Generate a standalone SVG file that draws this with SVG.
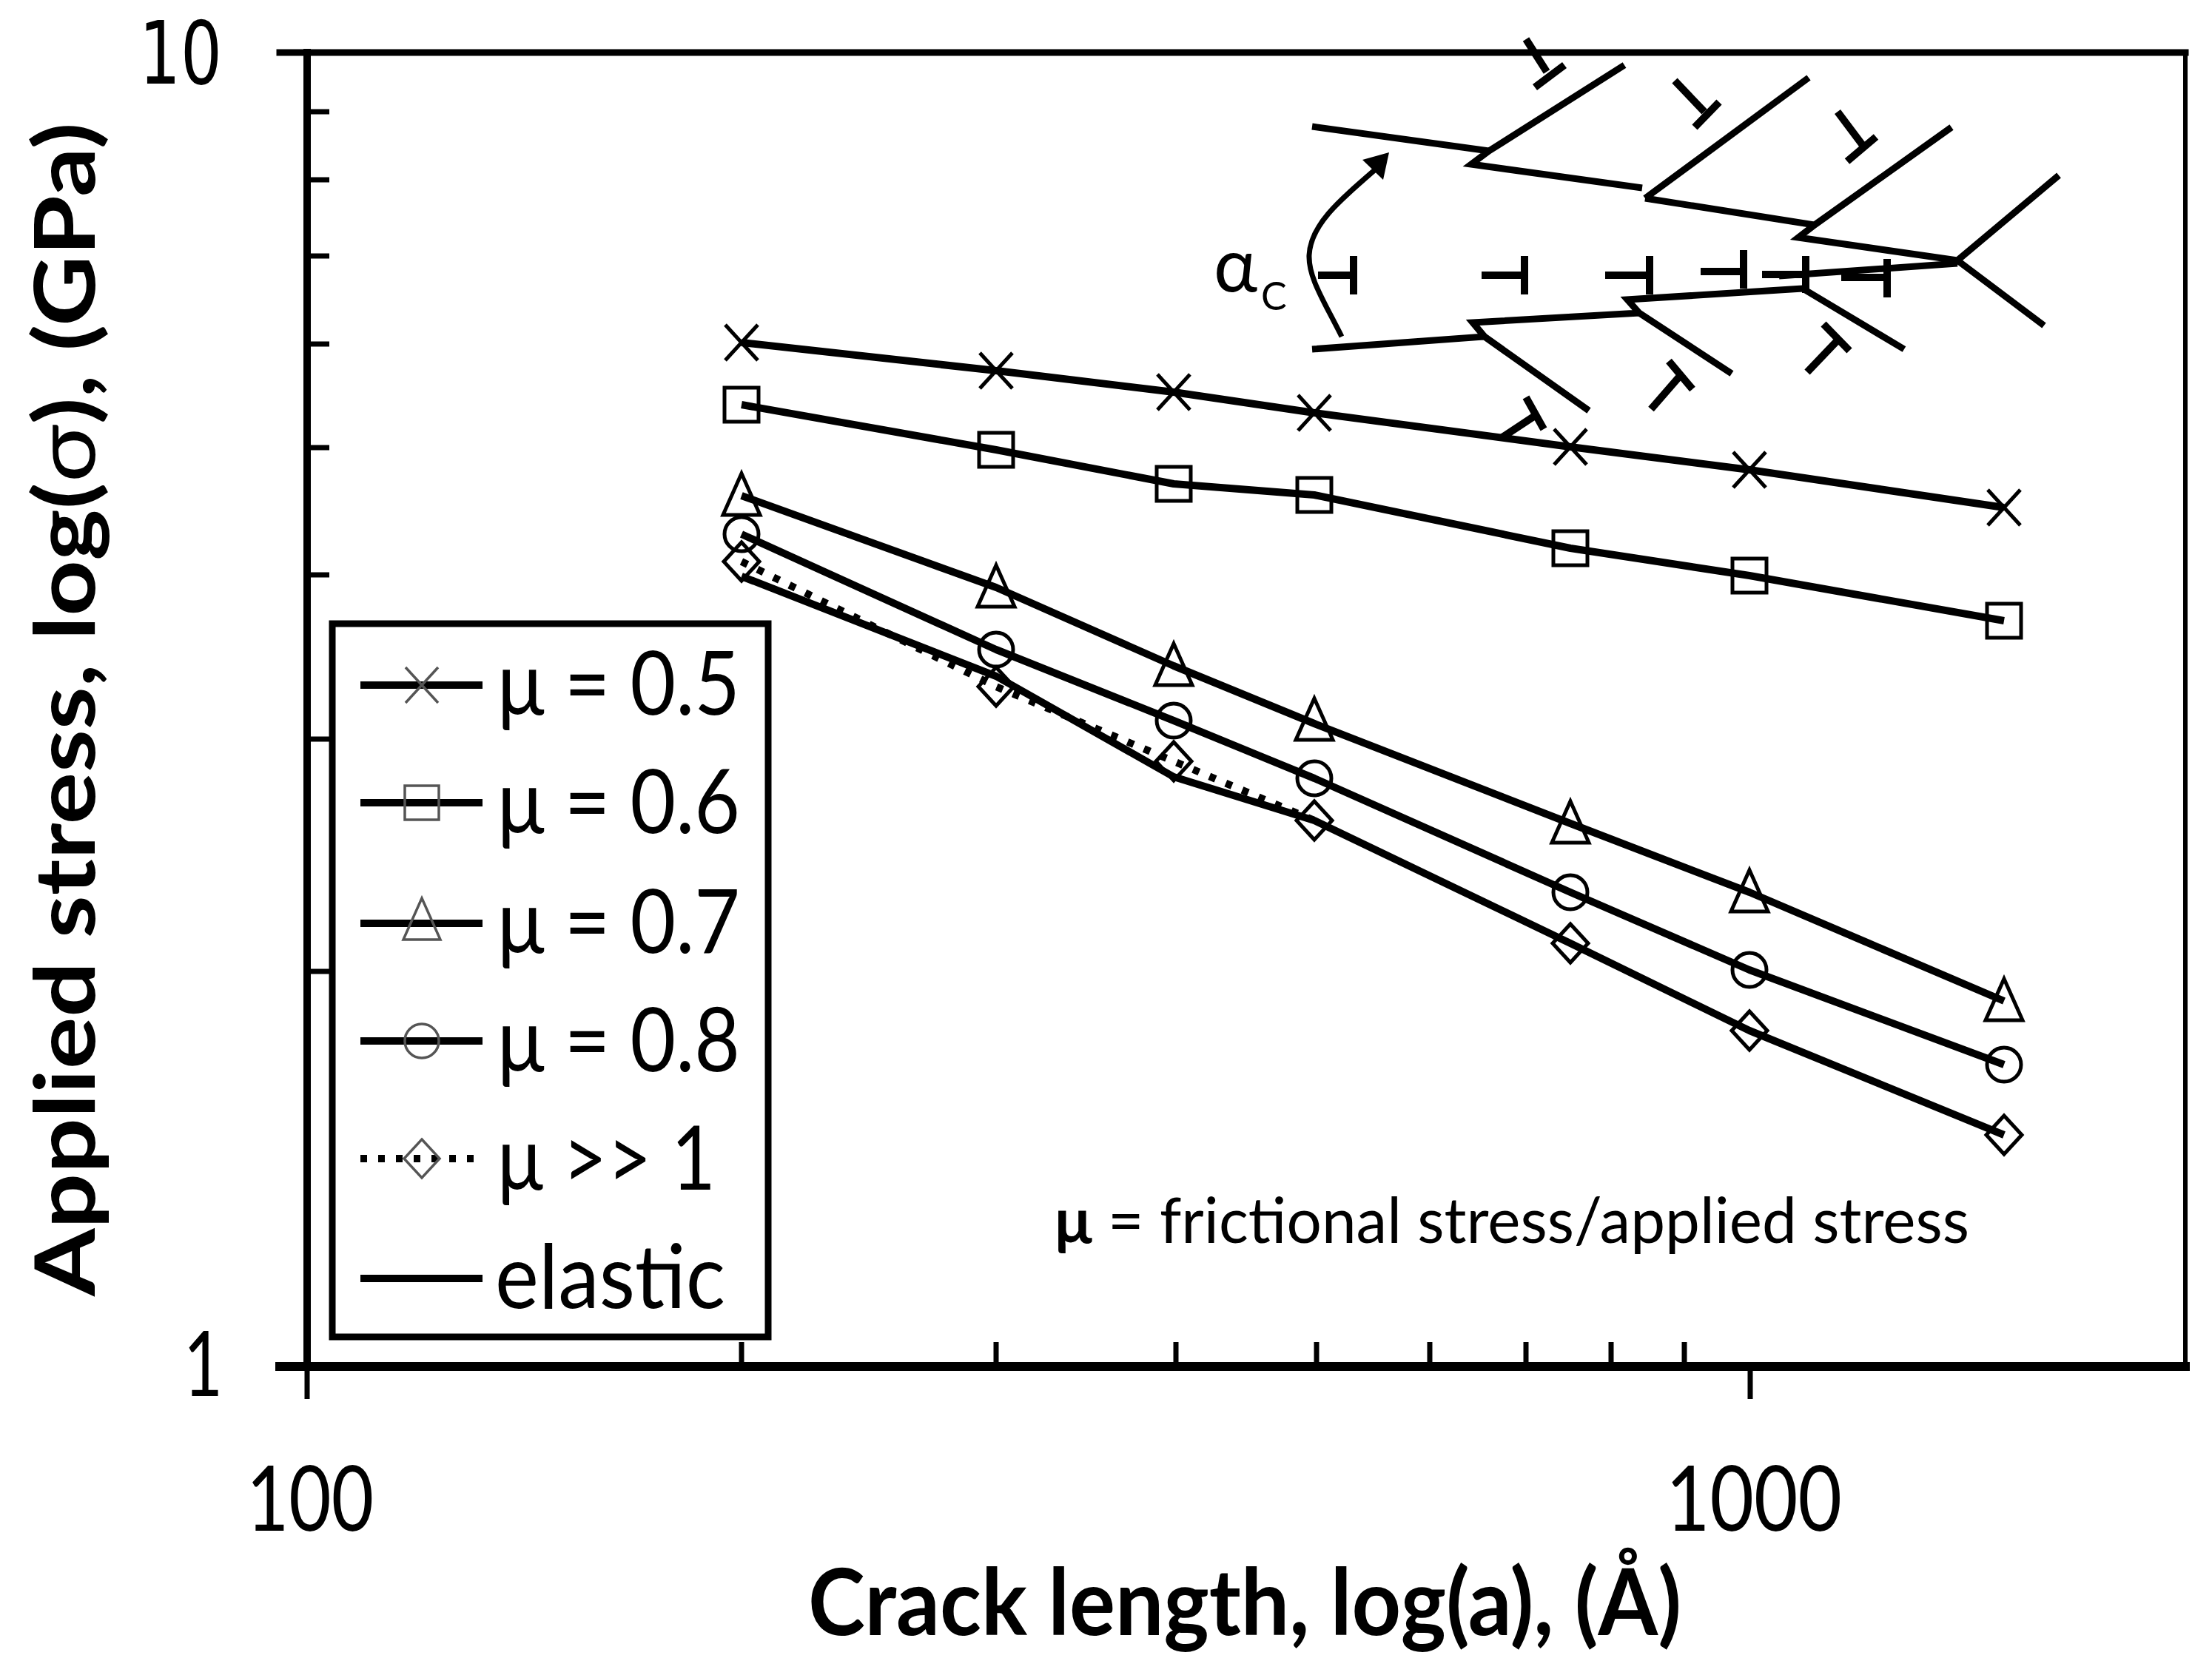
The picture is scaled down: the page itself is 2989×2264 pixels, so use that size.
<svg xmlns="http://www.w3.org/2000/svg" width="2989" height="2264" viewBox="0 0 2989 2264">
<style>
text{font-family:"Lato","Liberation Sans",sans-serif;fill:#000}
.tick{font-size:122px}
.leg{font-size:120px}
.ax{stroke:#000;fill:none;stroke-linecap:square}
.s{stroke:#000;stroke-width:10;fill:none;stroke-linejoin:round}
.in{stroke:#000;stroke-width:9;fill:none;stroke-linejoin:miter}
.dis{stroke:#000;stroke-width:10;fill:none}
.mk{stroke:#000;stroke-width:5;fill:none}
.lm{stroke:#555;stroke-width:3.5;fill:none}
</style>
<defs>
<g id="mX"><path d="M-22-24L22 24M-22 24L22-24"/></g>
<g id="mS"><rect x="-23" y="-23" width="46" height="46"/></g>
<g id="mT"><path d="M0-30L25 26H-25Z"/></g>
<g id="mC"><circle r="23"/></g>
<g id="mD"><path d="M0-26L24 0L0 26L-24 0Z"/></g>
</defs>
<rect width="2989" height="2264" fill="#fff"/>

<g id="axes">
<path class="ax" stroke-width="9" d="M378 71H2953"/>
<path class="ax" stroke-width="6" d="M2953 71V1847"/>
<path class="ax" stroke-width="10" d="M415 71V1847"/>
<path class="ax" stroke-width="12" d="M378 1847H2953"/>
<path stroke="#000" stroke-width="7" fill="none" d="M415 151H445M415 243H445M415 346H445M415 465H445M415 605H445M415 777H445M415 999H445M415 1313H445"/>
<path stroke="#000" stroke-width="7" fill="none" d="M1002 1847V1814M1346 1847V1814M1589 1847V1814M1779 1847V1814M1932 1847V1814M2062 1847V1814M2177 1847V1814M2276 1847V1814M2365 1847V1891M415 1847V1891"/>
<text x="188" y="113" style="font-family:'DejaVu Sans',sans-serif" font-size="118" textLength="112" lengthAdjust="spacingAndGlyphs">10</text>
<text class="tick" x="248" y="1887" textLength="53" lengthAdjust="spacingAndGlyphs">1</text>
<text class="tick" x="333" y="2069" textLength="172" lengthAdjust="spacingAndGlyphs">100</text>
<text class="tick" x="2251" y="2069" textLength="238" lengthAdjust="spacingAndGlyphs">1000</text>
<text x="1092" y="2210" font-size="125" font-weight="700" textLength="1180" lengthAdjust="spacingAndGlyphs">Crack length, log(a), (Å)</text>
<text transform="translate(128 1752) rotate(-90) scale(1.175 1)" font-size="112" font-weight="700">Applied stress, log(<tspan font-weight="400">σ</tspan>), (GPa)</text>
</g>

<g id="connectors">
<polyline id="line-elastic" class="s" points="1002,779 1346,914 1586,1050 1776,1109 2122,1275 2364,1393 2708,1534"/>
<polyline id="line-dotted" class="s" stroke-dasharray="9 15" points="1002,759 1346,928 1586,1029 1776,1109"/>
<polyline id="line-05" class="s" points="1002,463 1346,501 1586,530 1776,558 2122,604 2364,635 2708,686"/>
<polyline id="line-06" class="s" points="1002,547 1346,608 1586,654 1776,669 2122,741 2364,778 2708,839"/>
<polyline id="line-07" class="s" points="1002,670 1346,794 1586,900 1776,978 2122,1113 2364,1206 2708,1353"/>
<polyline id="line-08" class="s" points="1002,722 1346,878 1586,974 1776,1052 2122,1206 2364,1311 2708,1439"/>
</g>

<g id="series-05" class="mk">
<use href="#mX" x="1002" y="463"/><use href="#mX" x="1346" y="501"/><use href="#mX" x="1586" y="530"/><use href="#mX" x="1776" y="558"/><use href="#mX" x="2122" y="604"/><use href="#mX" x="2364" y="635"/><use href="#mX" x="2708" y="686"/>
</g>
<g id="series-06" class="mk">
<use href="#mS" x="1002" y="547"/><use href="#mS" x="1346" y="608"/><use href="#mS" x="1586" y="654"/><use href="#mS" x="1776" y="669"/><use href="#mS" x="2122" y="741"/><use href="#mS" x="2364" y="778"/><use href="#mS" x="2708" y="839"/>
</g>
<g id="series-07" class="mk">
<use href="#mT" x="1002" y="670"/><use href="#mT" x="1346" y="794"/><use href="#mT" x="1586" y="900"/><use href="#mT" x="1776" y="974"/><use href="#mT" x="2122" y="1113"/><use href="#mT" x="2364" y="1206"/><use href="#mT" x="2708" y="1353"/>
</g>
<g id="series-08" class="mk">
<use href="#mC" x="1002" y="722"/><use href="#mC" x="1346" y="878"/><use href="#mC" x="1586" y="974"/><use href="#mC" x="1776" y="1052"/><use href="#mC" x="2122" y="1206"/><use href="#mC" x="2364" y="1311"/><use href="#mC" x="2708" y="1439"/>
</g>
<g id="series-inf" class="mk">
<use href="#mD" x="1002" y="759"/><use href="#mD" x="1346" y="928"/><use href="#mD" x="1586" y="1029"/><use href="#mD" x="1776" y="1109"/><use href="#mD" x="2122" y="1275"/><use href="#mD" x="2364" y="1393"/><use href="#mD" x="2708" y="1534"/>
</g>

<g id="legend">
<rect x="449" y="843" width="589" height="964" fill="#fff" stroke="#000" stroke-width="9"/>
<path class="s" d="M487 926H652M487 1085H652M487 1248H652M487 1407H652M487 1728H652"/>
<path class="s" stroke-dasharray="9 15" d="M487 1566H646"/>
<g class="lm">
<use href="#mX" x="570" y="926"/><use href="#mS" x="570" y="1085"/><use href="#mT" x="570" y="1244"/><use href="#mC" x="570" y="1407"/><use href="#mD" x="570" y="1566"/>
</g>
<text class="leg" x="672" y="966" textLength="328" lengthAdjust="spacingAndGlyphs">μ = 0.5</text>
<text class="leg" x="672" y="1126" textLength="328" lengthAdjust="spacingAndGlyphs">μ = 0.6</text>
<text class="leg" x="672" y="1288" textLength="328" lengthAdjust="spacingAndGlyphs">μ = 0.7</text>
<text class="leg" x="672" y="1448" textLength="328" lengthAdjust="spacingAndGlyphs">μ = 0.8</text>
<text class="leg" x="672" y="1608" textLength="295" lengthAdjust="spacingAndGlyphs">μ &gt;&gt; 1</text>
<text class="leg" x="669" y="1768" textLength="311" lengthAdjust="spacingAndGlyphs">elastic</text>
</g>

<g id="note">
<text x="1425" y="1680" font-size="85" textLength="1236" lengthAdjust="spacingAndGlyphs"><tspan font-weight="700">μ</tspan> = frictional stress/applied stress</text>
</g>

<g id="inset">
<path class="in" d="M1773 171L2012 204L1988 222L2219 254M2012 204L2195 88M2223 268L2444 105M2223 268L2452 304L2430 321L2645 352L2782 237M2452 304L2637 172M2645 352L2762 440"/>
<path class="in" d="M1773 472L2006 455L1990 436L2215 423L2199 405L2436 390M2404 373L2645 356M2006 455L2147 555M2215 423L2340 505M2436 390L2573 472"/>
<g class="dis">
<path d="M1829 346V398M1781 372H1829"/>
<path d="M2060 346V398M2002 372H2060"/>
<path d="M2229 346V398M2169 372H2229"/>
<path d="M2356 338V390M2298 367H2356"/>
<path d="M2440 346V396M2381 371H2440"/>
<path d="M2550 350V402M2488 375H2550"/>
<path d="M2062 53L2090 97M2114 88L2074 118"/>
<path d="M2263 109L2303 151M2323 138L2290 172"/>
<path d="M2483 151L2516 195M2535 185L2496 218"/>
<path d="M2464 438L2499 474M2442 503L2484 459"/>
<path d="M2255 488L2287 526M2231 553L2271 507"/>
<path d="M2062 537L2086 580M2030 591L2074 562"/>
</g>
<path fill="none" stroke="#000" stroke-width="7" d="M1813 455C1788 405 1768 375 1769 345C1771 305 1805 275 1862 226"/>
<polygon points="1877,206 1841,216 1869,243" fill="#000"/>
<text x="1640" y="394" font-size="100">α</text>
<text x="1704" y="419" font-size="52">C</text>
</g>
</svg>
